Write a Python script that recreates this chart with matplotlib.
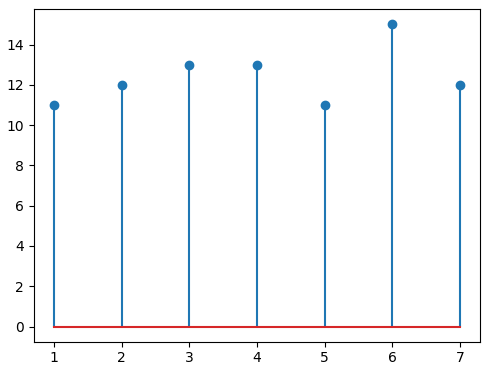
import matplotlib
matplotlib.use("Agg")
import matplotlib.pyplot as plt

x = [1, 2, 3, 4, 5, 6, 7]
y = [11, 12, 13, 13, 11, 15, 12]

fig = plt.figure(figsize=(4.94, 3.71), dpi=100)
ax = fig.add_axes([0.068, 0.079, 0.904, 0.896])
ax.stem(x, y)

fig.savefig("out.png", dpi=100)
